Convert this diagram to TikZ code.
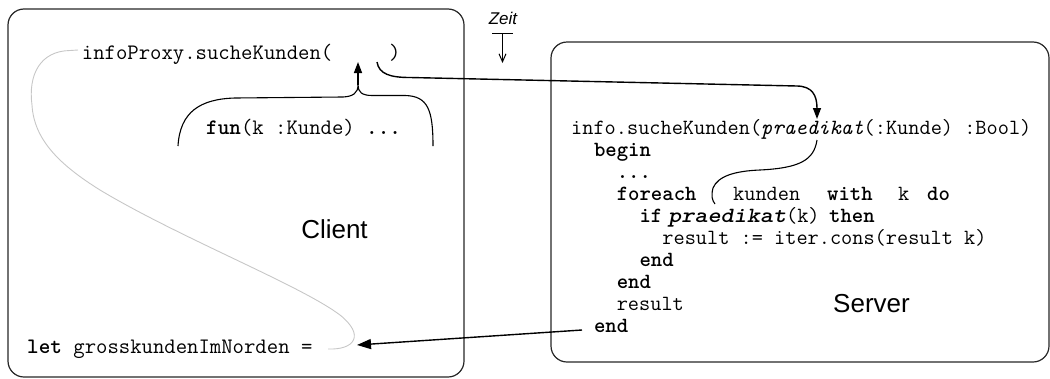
\documentclass[tikz,border=0pt]{standalone}
\usepackage{fontspec}
\usepackage{graphicx}
\newfontfamily\helv{Liberation Sans}
\usetikzlibrary{arrows.meta}
\begin{document}
\begin{tikzpicture}[x=1pt,y=-1pt,
  frame/.style={draw=black!85,line width=1.2pt,rounded corners=16pt},
  srv/.style={anchor=base west,inner sep=0pt,font=\ttfamily\fontsize{21.7}{22}\selectfont},
  cli/.style={anchor=base west,inner sep=0pt,font=\ttfamily\fontsize{22.1}{22}\selectfont},
  lbl/.style={inner sep=0pt,font=\helv\fontsize{26}{26}\selectfont},
  wire/.style={draw=black,line width=1.4pt},
  arrowhd/.style={-{Triangle[length=11pt,width=8pt]}},
  bigarrowhd/.style={-{Triangle[length=14pt,width=10pt]}},
  trace/.style={draw=black!22,line width=0.9pt}
]
\useasboundingbox (0,0) rectangle (1050,378);

% the two machines
\draw[frame] (8,9) rectangle (464,377);
\draw[frame] (551,42) rectangle (1049,362);
\node[lbl] (client) at (334.5,229.5) {Client};
\node[lbl] (server) at (871.5,303.5) {Server};

% time direction
\node[inner sep=0pt,font=\helv\itshape\fontsize{17}{17}\selectfont] (zeit) at (503,18) {Zeit};
\coordinate (zbar) at (502.5,33);
\coordinate (zend) at (502.5,63);
\draw[line width=1pt] (492,33) -- (513,33);
\draw[line width=1pt,-{Straight Barb[length=8pt,width=7pt]}] (zbar) -- (zend);

% client code
\node[cli] (call) at (81.7,59) {infoProxy.sucheKunden(~~~~~)};
\node[cli] (lambda) at (206,134) {\textbf{fun}(k~:Kunde)~\textbf{...}};
\node[cli] (let) at (27,353) {\textbf{let}~grosskundenImNorden~=};

% server code
\node[srv] (s1) at (571,134) {info.sucheKunden(\textit{praedikat}(:Kunde)~:Bool)};
\node[srv] (s2) at (593.8,156.1) {\textbf{begin}};
\node[srv] (s3) at (616.6,178.2) {\textbf{...}};
\node[srv] (s4a) at (616.6,200.3) {\textbf{foreach}};
\node[srv] (s4b) at (733,200.3) {kunden};
\node[srv] (s4c) at (827,200.3) {\textbf{with}};
\node[srv] (s4d) at (898,200.3) {k};
\node[srv] (s4e) at (927,200.3) {\textbf{do}};
\node[srv] (s5a) at (639.4,222.4) {\textbf{if}};
\node[srv] (s5b) at (668,222.4) {\scalebox{1.15}[1]{\textbf{\textit{praedikat}}}(k)};
\node[srv] (s5c) at (829,222.4) {\textbf{then}};
\node[srv] (s6) at (662.2,244.5) {result~:=~iter.cons(result~k)};
\node[srv] (s7) at (639.4,266.6) {\textbf{end}};
\node[srv] (s8) at (616.6,288.7) {\textbf{end}};
\node[srv] (s9) at (616.6,310.8) {result};
\node[srv] (s10) at (593.8,332.9) {\textbf{end}};

% connector end points
\coordinate (slot) at (358,62);
\coordinate (cusp) at (358,85);
\coordinate (callout) at (377,62);
\coordinate (param) at (817,119);
\coordinate (paramout) at (817,140);
\coordinate (paren) at (715,204);
\coordinate (retfrom) at (582,330);
\coordinate (retto) at (357,345);
\coordinate (bindfrom) at (78,50);
\coordinate (bindto) at (328,349);

% brace around the function literal
\draw[line width=1.1pt] (178,146) .. controls (180,112) and (200,99) .. (235,98)
  -- (343,97) .. controls (353,96.5) and (358,93) .. (cusp)
  .. controls (358,92) and (362,95.5) .. (372,95.5)
  -- (405,95.5) .. controls (428,96) and (433,110) .. (433,146);
\draw[wire,arrowhd] (cusp) -- (slot);

% the function is passed to the server
\draw[wire,arrowhd] (callout) .. controls (379,74) and (390,77.5) .. (410,77.5)
  -- (797,86) .. controls (812,86.3) and (817,95) .. (param);

% the parameter is used inside the loop
\draw[line width=1.1pt] (paramout) .. controls (814,160) and (800,168) .. (760,170)
  .. controls (735,171) and (718,176) .. (713,188)
  .. controls (711,196) and (712,200) .. (paren);

% the result comes back
\draw[wire,bigarrowhd] (retfrom) -- (retto);

% binding of the call result
\draw[trace] (bindfrom) -- (70,50.5) .. controls (40,51) and (28,75) .. (32,105)
  .. controls (34,140) and (60,165) .. (100,190)
  .. controls (180,238) and (300,285) .. (340,315)
  .. controls (365,335) and (355,350) .. (bindto);
\end{tikzpicture}
\end{document}
